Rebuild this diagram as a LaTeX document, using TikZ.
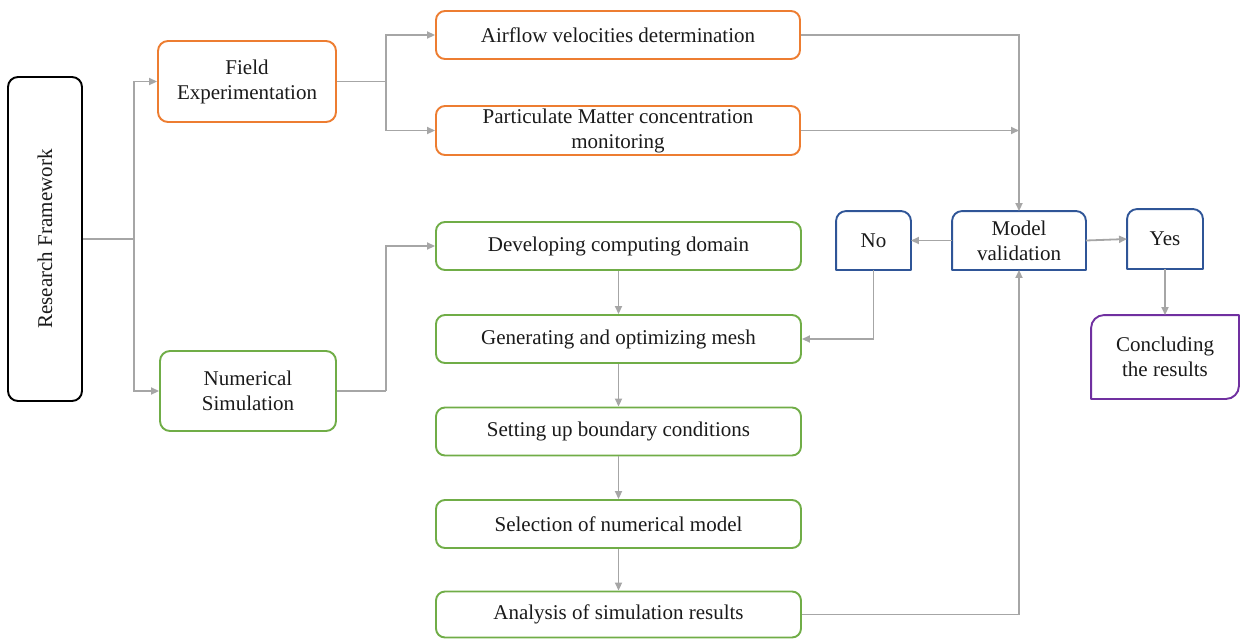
\documentclass[tikz,border=0pt]{standalone}
\usepackage{fontspec}
\setmainfont{Liberation Serif}
\usetikzlibrary{arrows.meta}
\definecolor{cOrange}{HTML}{ED7D31}
\definecolor{cGreen}{HTML}{70AD47}
\definecolor{cBlue}{HTML}{2F5597}
\definecolor{cPurple}{HTML}{7030A0}
\definecolor{cGray}{HTML}{A6A6A6}
\definecolor{cText}{HTML}{1A1A1A}
\tikzset{
  box/.style={rectangle, inner sep=0pt, align=center, text=cText,
    font=\fontsize{21}{25}\selectfont, line width=1.9pt},
  rbox/.style={box, draw, rounded corners=10pt},
  plainbox/.style={box, draw=none},
  conn/.style={draw=cGray, line width=1.8pt},
  arr/.style={conn, -{Triangle[length=8pt,width=7pt]}},
}
\begin{document}
\begin{tikzpicture}[x=1pt,y=-1pt]
\useasboundingbox (0,0) rectangle (1241,638);
% nodes
\node[rbox, draw=black, minimum width=74pt, minimum height=324pt] (RF) at (45,239) {};
\node[box, rotate=90] (RFt) at (RF.center) {Research Framework};
\node[rbox, draw=cOrange, minimum width=178pt, minimum height=81pt] (FE) at (247,81.5) {Field\\Experimentation};
\node[rbox, draw=cGreen, minimum width=176pt, minimum height=80pt] (NS) at (248,391) {Numerical\\Simulation};
\node[rbox, draw=cOrange, rounded corners=9pt, minimum width=364pt, minimum height=48pt] (AF) at (618,35) {Airflow velocities determination};
\node[rbox, draw=cOrange, rounded corners=9pt, minimum width=364pt, minimum height=49pt] (PM) at (618,130.5) {Particulate Matter concentration\\monitoring};
\node[rbox, draw=cGreen, rounded corners=9pt, minimum width=365pt, minimum height=48pt] (DEV) at (618.5,246) {Developing computing domain};
\node[rbox, draw=cGreen, rounded corners=9pt, minimum width=365pt, minimum height=48pt] (GEN) at (618.5,339) {Generating and optimizing mesh};
\node[rbox, draw=cGreen, rounded corners=9pt, minimum width=365pt, minimum height=48pt] (SET) at (618.5,431.5) {Setting up boundary conditions};
\node[rbox, draw=cGreen, rounded corners=9pt, minimum width=365pt, minimum height=48pt] (SEL) at (618.5,524) {Selection of numerical model};
\node[rbox, draw=cGreen, rounded corners=9pt, minimum width=365pt, minimum height=46pt] (ANA) at (618.5,614.5) {Analysis of simulation results};
\node[plainbox, minimum width=73pt, minimum height=57pt] (NO) at (873.5,240.5) {No};
\node[plainbox, minimum width=132pt, minimum height=57pt] (MV) at (1019,240.5) {Model\\validation};
\node[plainbox, minimum width=74pt, minimum height=58pt] (YES) at (1165,239) {Yes};
\node[plainbox, minimum width=146pt, minimum height=82pt] (CON) at (1165,357) {Concluding\\the results};
% top-rounded blue boxes
\foreach \n in {NO,MV,YES}{
  \draw[cBlue, line width=1.9pt, line join=round]
    (\n.south west) -- ([yshift=-10pt]\n.north west)
    arc[start angle=180, end angle=90, radius=10pt]
    -- ([xshift=-10pt]\n.north east)
    arc[start angle=90, end angle=0, radius=10pt]
    -- (\n.south east) -- cycle;
}
% diagonal-rounded purple box
\draw[cPurple, line width=1.9pt, line join=round]
  ([yshift=-13pt]CON.north west)
  arc[start angle=180, end angle=90, radius=13pt]
  -- (CON.north east) -- ([yshift=13pt]CON.south east)
  arc[start angle=0, end angle=-90, radius=13pt]
  -- (CON.south west) -- cycle;
% junctions
\coordinate (j1) at (134,239);
\coordinate (j2) at (386,81.5);
\coordinate (j3) at (386,391);
% connectors
\draw[conn] (RF.east) -- (j1);
\draw[arr] (j1) |- (FE.west);
\draw[arr] (j1) |- (NS.west);
\draw[conn] (FE.east) -- (j2);
\draw[arr] (j2) |- (AF.west);
\draw[arr] (j2) |- (PM.west);
\draw[conn] (NS.east) -- (j3);
\draw[arr] (j3) |- (DEV.west);
\draw[arr] (AF.east) -| (MV.north);
\draw[arr] (PM.east) -- (PM.east -| MV.north);
\draw[arr] (DEV) -- (GEN);
\draw[arr] (GEN) -- (SET);
\draw[arr] (SET) -- (SEL);
\draw[arr] (SEL) -- (ANA);
\draw[arr] (ANA.east) -| (MV.south);
\draw[arr] (MV.west) -- (NO.east);
\draw[arr] (MV.east) -- (YES.west);
\draw[arr] (NO.south) |- (GEN.east);
\draw[arr] (YES.south) -- (CON.north);
\end{tikzpicture}
\end{document}
